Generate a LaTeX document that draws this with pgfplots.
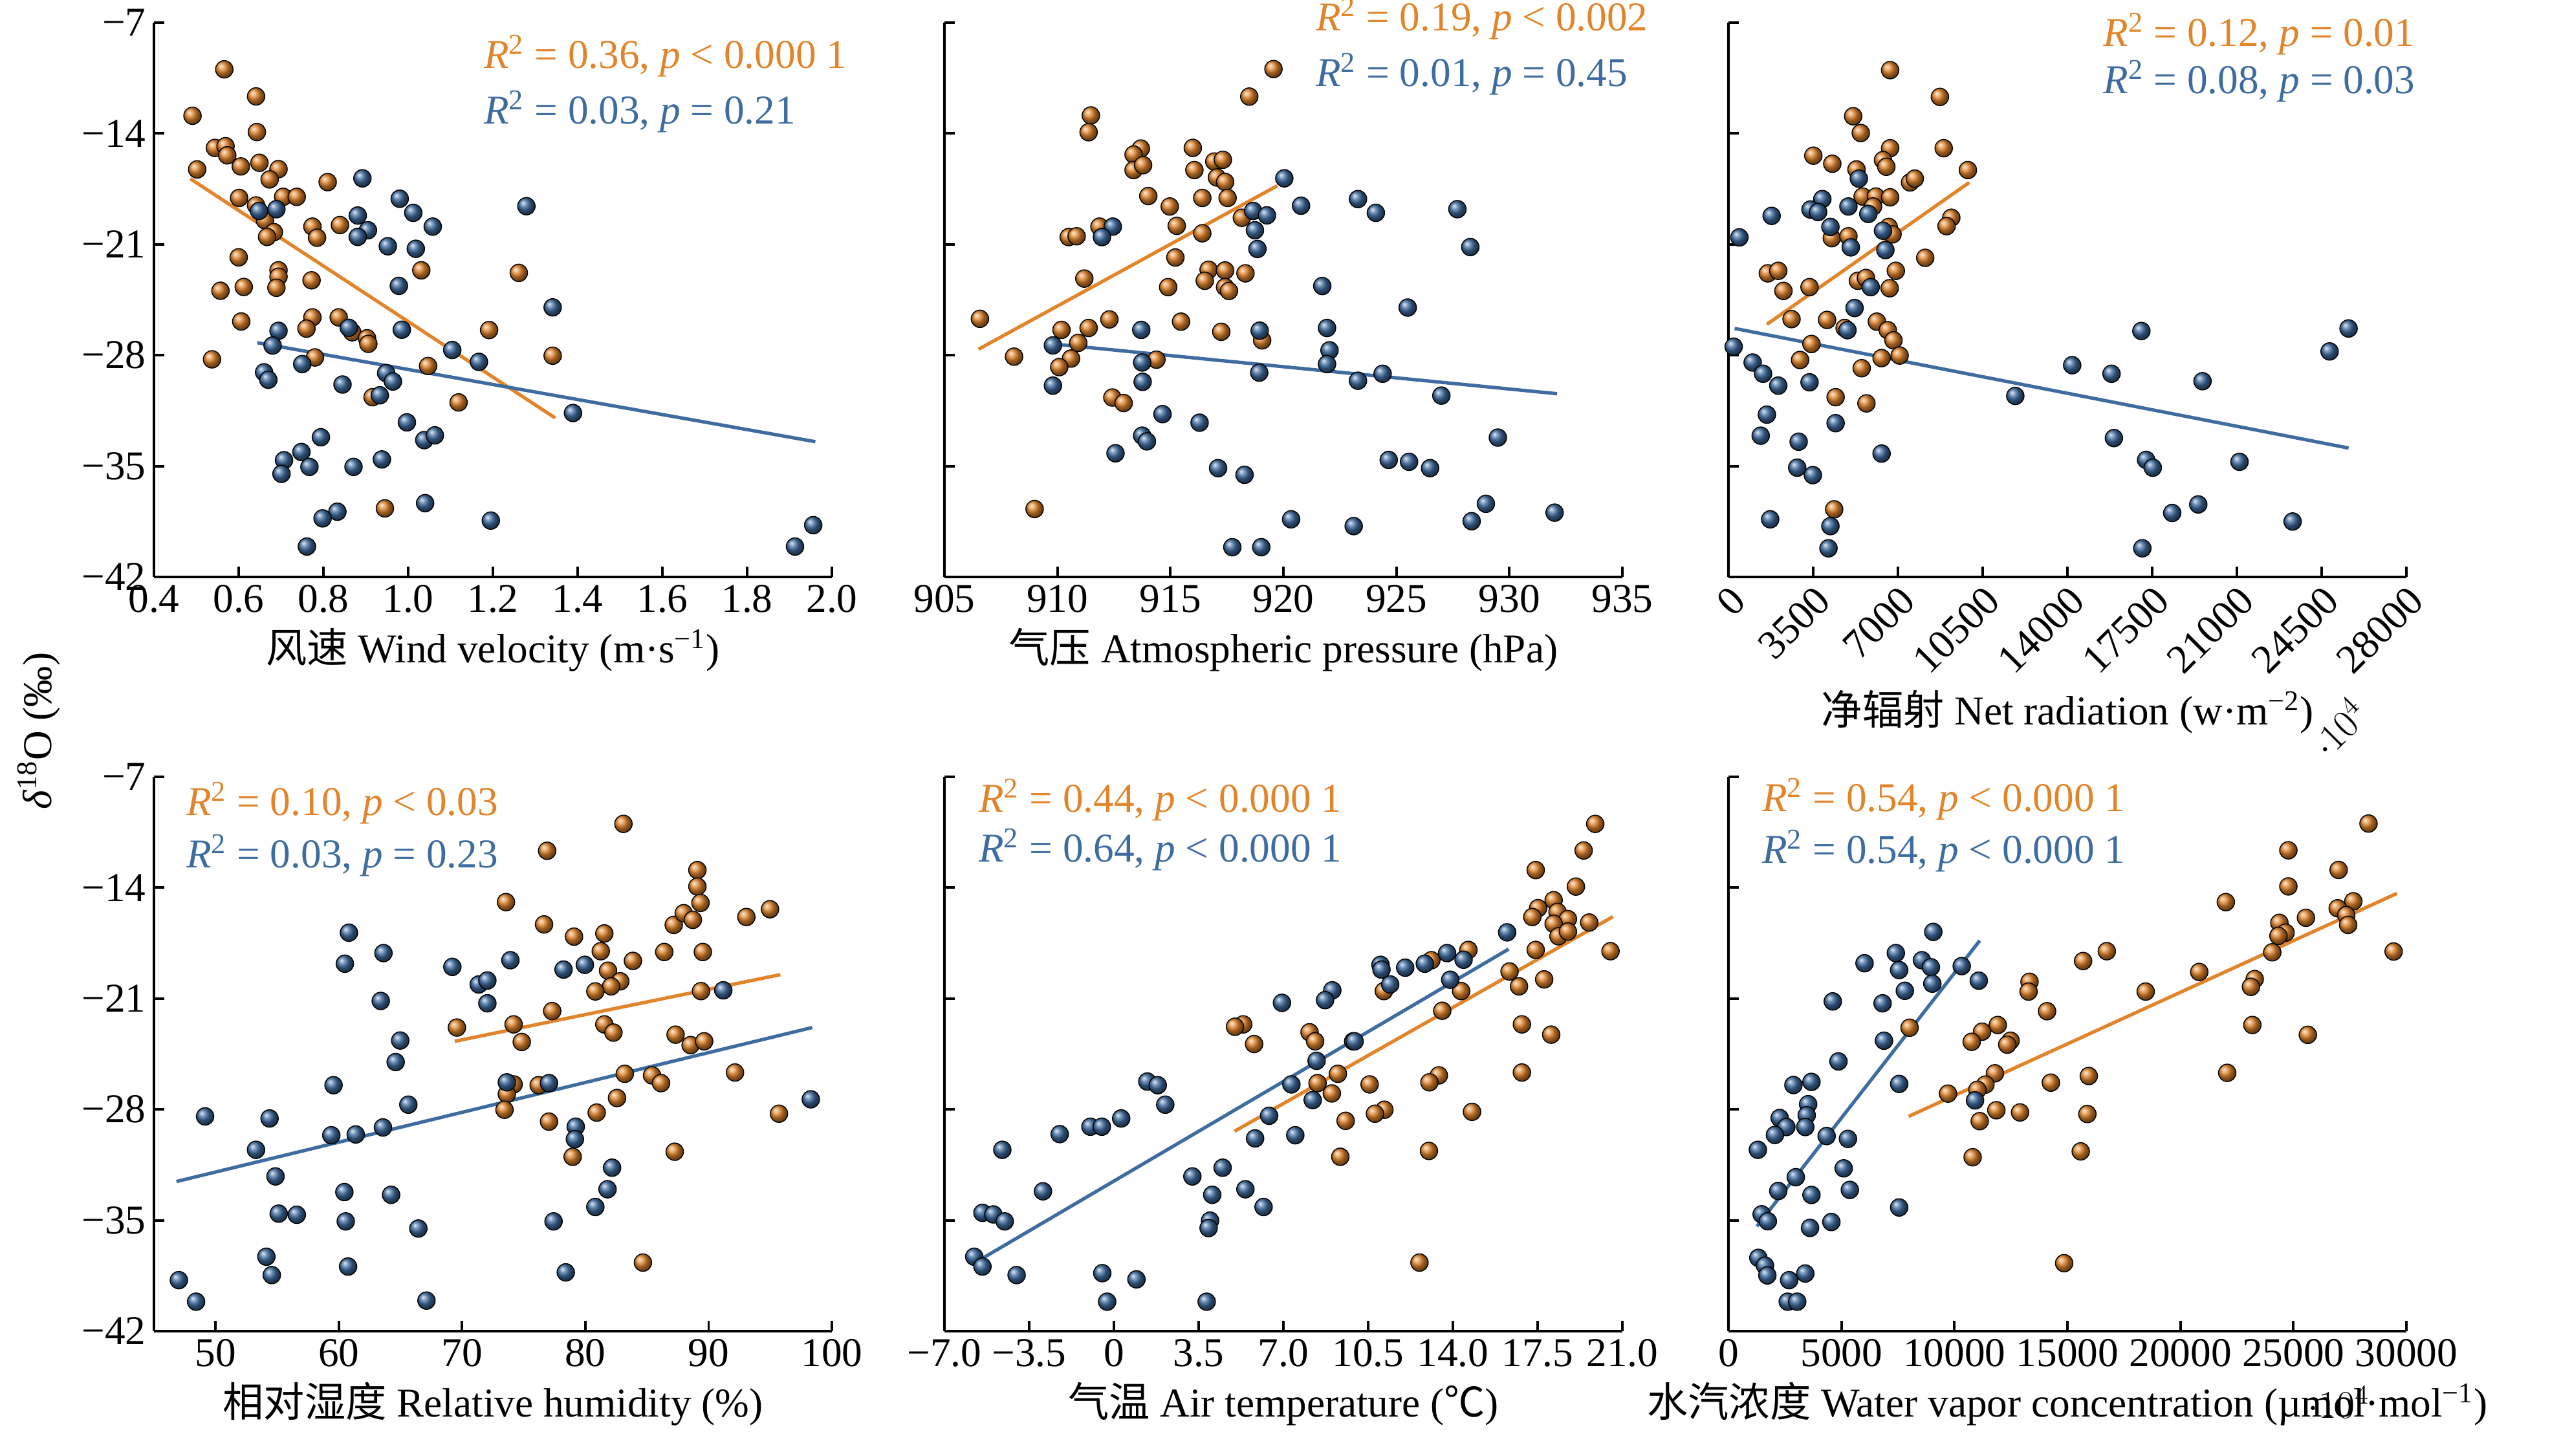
\documentclass[border=0pt]{standalone}
\usepackage{pgfplots}
\pgfplotsset{compat=1.18}
\usepackage{fontspec}
\setmainfont{Liberation Serif}
\newfontfamily\cjk{Noto Sans CJK SC}
\usetikzlibrary{plotmarks}
\definecolor{myorange}{RGB}{226,132,42}
\definecolor{myblue}{RGB}{62,108,160}
\newcommand\fs{\fontsize{18}{21}\selectfont}
\newcommand\rr[2]{{\itshape R}\textsuperscript{2} = #1, {\itshape p} #2}
\tikzset{ot/.style={anchor=west, text=myorange, font=\fs}, bt/.style={anchor=west, text=myblue, font=\fs}}
\pgfplotsset{panel/.style={width=104.8mm,height=85.7mm,scale only axis,anchor=south west,
  axis x line*=bottom, axis y line*=left, ymin=-42, ymax=-7, ytick={-42,-35,-28,-21,-14,-7},
  yticklabels={}, axis line style={line width=1.1pt}, tick style={black,line width=1.1pt},
  major tick length=1.6mm, tick label style={font=\fs}, label style={font=\fs}, clip=false},
  op/.style={only marks, mark=ball, mark size=1.35mm, ball color=myorange},
  bp/.style={only marks, mark=ball, mark size=1.35mm, ball color=myblue},
  ol/.style={myorange, line width=1.5pt}, bl/.style={myblue, line width=1.5pt}}
\begin{document}
\begin{tikzpicture}
% Panel 1
\begin{axis}[panel, at={(23.8mm,135.9mm)}, xmin=0.4, xmax=2.0,
  xtick={0.4,0.6,0.8,1.0,1.2,1.4,1.6,1.8,2.0}, xticklabels={0.4,0.6,0.8,1.0,1.2,1.4,1.6,1.8,2.0},
  yticklabels={−42,−35,−28,−21,−14,−7},
  xlabel={{\cjk 风速} Wind velocity (m·s\textsuperscript{−1})}]
\addplot[op] coordinates {(0.566,-9.95)(0.641,-11.66)(0.491,-12.88)(0.643,-13.91)(0.544,-14.91)(0.569,-14.80)(0.573,-15.38)(0.605,-16.08)(0.502,-16.27)(0.649,-15.85)(0.694,-16.25)(0.673,-16.90)(0.810,-17.07)(0.601,-18.07)(0.705,-18.0)(0.737,-18.0)(0.641,-18.54)(0.662,-19.48)(0.683,-20.23)(0.667,-20.53)(0.774,-19.88)(0.785,-20.58)(0.839,-19.78)(0.600,-21.82)(0.694,-22.64)(0.694,-23.04)(0.689,-23.74)(0.557,-23.93)(0.612,-23.69)(0.772,-23.27)(1.031,-22.64)(1.261,-22.80)(0.606,-25.87)(0.774,-25.61)(0.760,-26.32)(0.836,-25.61)(0.868,-26.55)(0.903,-26.93)(0.906,-27.28)(1.191,-26.41)(0.537,-28.26)(0.780,-28.14)(1.047,-28.68)(1.341,-28.03)(0.916,-30.65)(1.119,-30.98)(0.945,-37.67)};
\addplot[bp] coordinates {(0.892,-16.83)(0.980,-18.12)(1.012,-19.01)(1.058,-19.88)(0.881,-19.18)(0.905,-20.11)(0.881,-20.53)(0.952,-21.12)(1.018,-21.28)(1.279,-18.59)(0.648,-18.89)(0.689,-18.78)(0.978,-23.62)(1.341,-24.98)(0.694,-26.46)(0.860,-26.27)(0.985,-26.39)(0.680,-27.39)(1.104,-27.67)(1.167,-28.42)(0.660,-29.08)(0.670,-29.55)(0.750,-28.56)(0.845,-29.85)(0.948,-29.13)(0.964,-29.66)(0.933,-30.53)(1.389,-31.65)(0.997,-32.24)(0.794,-33.18)(1.038,-33.36)(1.063,-33.06)(0.748,-34.11)(0.707,-34.63)(0.701,-35.49)(0.767,-35.05)(0.871,-35.05)(0.938,-34.58)(1.040,-37.34)(0.833,-37.88)(0.798,-38.30)(1.195,-38.44)(0.761,-40.08)(1.913,-40.08)(1.956,-38.73)};
\addplot[ol] coordinates {(0.486,-16.86)(1.347,-31.96)};
\addplot[bl] coordinates {(0.644,-27.21)(1.961,-33.46)};
\node[ot] at (rel axis cs:0.475,0.94) {\rr{0.36}{< 0.000 1}};
\node[bt] at (rel axis cs:0.475,0.84) {\rr{0.03}{= 0.21}};
\end{axis}
% Panel 2
\begin{axis}[panel, at={(146.0mm,135.9mm)}, xmin=905, xmax=935,
  xtick={905,910,915,920,925,930,935}, xticklabels={905,910,915,920,925,930,935},
  xlabel={{\cjk 气压} Atmospheric pressure (hPa)}]
\addplot[op] coordinates {(919.56,-9.93)(918.49,-11.67)(911.48,-12.86)(911.38,-13.92)(915.99,-14.91)(913.69,-14.95)(913.37,-15.33)(916.94,-15.77)(917.32,-15.66)(913.37,-16.31)(913.79,-16.0)(916.06,-16.31)(917.06,-16.78)(917.42,-17.06)(914.02,-17.95)(916.41,-18.07)(917.53,-18.07)(914.97,-18.61)(915.28,-19.83)(918.16,-19.32)(916.41,-20.30)(911.86,-19.88)(910.50,-20.54)(910.85,-20.49)(915.22,-21.83)(916.69,-22.60)(917.42,-22.65)(916.52,-23.30)(918.32,-22.83)(911.19,-23.16)(914.90,-23.70)(917.42,-23.70)(917.59,-23.94)(906.57,-25.70)(912.30,-25.74)(915.47,-25.88)(910.18,-26.40)(911.38,-26.28)(917.25,-26.52)(919.06,-27.06)(910.92,-27.22)(908.08,-28.09)(910.60,-28.21)(910.08,-28.75)(914.38,-28.28)(912.43,-30.67)(912.93,-31.02)(908.99,-37.71)};
\addplot[bp] coordinates {(920.04,-16.83)(920.78,-18.56)(923.30,-18.14)(924.09,-19.01)(927.70,-18.78)(918.66,-18.89)(919.27,-19.17)(918.74,-20.11)(918.85,-21.29)(928.27,-21.17)(912.45,-19.88)(911.97,-20.54)(921.72,-23.63)(925.50,-24.99)(913.71,-26.40)(918.95,-26.45)(921.93,-26.28)(909.80,-27.38)(922.04,-27.69)(921.93,-28.56)(913.75,-28.46)(918.93,-29.10)(923.30,-29.61)(924.39,-29.17)(926.99,-30.55)(909.80,-29.92)(913.77,-29.68)(914.65,-31.72)(916.29,-32.26)(913.75,-33.08)(913.96,-33.44)(929.49,-33.20)(912.57,-34.19)(917.11,-35.13)(918.28,-35.55)(924.66,-34.61)(925.56,-34.73)(926.49,-35.13)(928.96,-37.38)(932.00,-37.94)(928.33,-38.48)(920.34,-38.36)(923.11,-38.79)(917.74,-40.12)(919.02,-40.12)};
\addplot[ol] coordinates {(906.51,-27.62)(919.73,-17.30)};
\addplot[bl] coordinates {(909.80,-27.29)(932.11,-30.43)};
\node[ot] at (rel axis cs:0.536,1.007) {\rr{0.19}{< 0.002}};
\node[bt] at (rel axis cs:0.536,0.907) {\rr{0.01}{= 0.45}};
\end{axis}
% Panel 3
\begin{axis}[panel, at={(267.2mm,135.9mm)}, xmin=0, xmax=28000,
  xtick={0,3500,7000,10500,14000,17500,21000,24500,28000}, xticklabels={0,3500,7000,10500,14000,17500,21000,24500,28000},
  xticklabel style={rotate=45, anchor=north east, inner sep=2pt},
  xlabel={{\cjk 净辐射} Net radiation (w·m\textsuperscript{−2})}]
\addplot[op] coordinates {(6677,-10.00)(8733,-11.69)(5150,-12.91)(5463,-13.97)(6677,-14.93)(8889,-14.93)(3505,-15.40)(4288,-15.91)(5287,-16.27)(6383,-15.68)(6520,-16.10)(9888,-16.31)(7499,-17.09)(7695,-16.85)(5541,-17.98)(6089,-17.98)(6677,-18.03)(5972,-18.61)(9203,-19.32)(9007,-19.85)(6618,-19.90)(4268,-20.61)(4954,-20.49)(6775,-20.37)(8126,-21.85)(1625,-22.83)(2056,-22.67)(6912,-22.67)(2271,-23.94)(3348,-23.70)(5345,-23.30)(5678,-23.12)(6657,-23.77)(2604,-25.72)(4073,-25.77)(4797,-26.28)(6129,-25.88)(6579,-26.42)(6814,-27.06)(3427,-27.29)(2957,-28.30)(6324,-28.18)(7068,-28.02)(5502,-28.82)(4425,-30.65)(5698,-31.04)(4366,-37.73)};
\addplot[bp] coordinates {(5385,-16.85)(3877,-18.14)(3387,-18.80)(3701,-18.96)(4954,-18.61)(5776,-19.08)(1782,-19.20)(450,-20.56)(4210,-19.90)(6383,-20.14)(5052,-21.19)(6481,-21.36)(5874,-23.70)(5208,-25.02)(4915,-26.42)(215,-27.46)(999,-28.46)(1429,-29.17)(2056,-29.92)(3348,-29.71)(11846,-30.57)(14196,-28.63)(15821,-29.17)(17054,-26.47)(19580,-29.64)(24827,-27.76)(25611,-26.31)(1586,-31.75)(4425,-32.29)(1331,-33.08)(2898,-33.46)(6324,-34.21)(2839,-35.10)(3485,-35.57)(15919,-33.23)(17250,-34.61)(17524,-35.10)(21107,-34.73)(18327,-37.96)(19404,-37.42)(23300,-38.50)(1723,-38.36)(4210,-38.79)(4131,-40.19)(17093,-40.19)};
\addplot[ol] coordinates {(1586,-26.05)(9947,-17.09)};
\addplot[bl] coordinates {(255,-26.31)(25611,-33.86)};
\node[ot] at (rel axis cs:0.541,0.98) {\rr{0.12}{= 0.01}};
\node[bt] at (rel axis cs:0.541,0.894) {\rr{0.08}{= 0.03}};
\end{axis}
% Panel 4
\begin{axis}[panel, at={(23.8mm,19.3mm)}, xmin=45, xmax=100,
  xtick={50,60,70,80,90,100}, xticklabels={50,60,70,80,90,100},
  yticklabels={−42,−35,−28,−21,−14,−7},
  xlabel={{\cjk 相对湿度} Relative humidity (\%)}]
\addplot[op] coordinates {(83.09,-9.97)(76.90,-11.67)(89.09,-12.89)(89.09,-13.93)(89.34,-14.96)(73.56,-14.91)(76.65,-16.32)(79.08,-17.09)(81.54,-16.89)(87.17,-16.35)(87.98,-15.61)(88.72,-16.03)(93.06,-15.85)(94.98,-15.36)(81.25,-18.01)(86.40,-18.06)(89.53,-18.06)(83.86,-18.62)(81.84,-19.24)(82.83,-19.91)(82.09,-20.23)(80.81,-20.55)(89.38,-20.53)(77.31,-21.79)(69.58,-22.83)(74.18,-22.63)(74.84,-23.74)(81.54,-22.63)(82.28,-23.15)(87.32,-23.28)(88.54,-23.94)(89.64,-23.70)(83.20,-25.75)(85.41,-25.85)(86.14,-26.34)(92.14,-25.67)(74.18,-26.42)(73.63,-27.03)(76.21,-26.47)(73.44,-28.02)(77.05,-28.77)(80.92,-28.20)(82.57,-27.28)(95.71,-28.27)(78.97,-30.99)(87.25,-30.67)(84.67,-37.67)};
\addplot[bp] coordinates {(60.82,-16.84)(63.62,-18.13)(60.49,-18.80)(69.21,-19.00)(73.92,-18.58)(78.23,-19.17)(79.96,-18.87)(71.35,-20.11)(72.05,-19.86)(72.05,-21.30)(63.40,-21.15)(91.19,-20.48)(64.98,-23.65)(64.61,-25.01)(59.57,-26.47)(73.63,-26.29)(77.05,-26.34)(65.64,-27.70)(49.15,-28.44)(54.38,-28.57)(53.28,-30.55)(59.39,-29.63)(61.37,-29.58)(63.58,-29.14)(79.22,-29.09)(79.15,-29.88)(98.29,-27.36)(54.86,-32.23)(60.45,-33.22)(64.24,-33.39)(55.12,-34.58)(56.59,-34.65)(60.56,-35.07)(66.45,-35.52)(77.42,-35.07)(80.81,-34.16)(81.80,-33.04)(82.17,-31.68)(54.12,-37.30)(54.56,-38.46)(60.75,-37.92)(78.41,-38.29)(47.02,-38.78)(48.42,-40.14)(67.11,-40.07)};
\addplot[ol] coordinates {(69.40,-23.70)(95.82,-19.49)};
\addplot[bl] coordinates {(46.83,-32.55)(98.40,-22.83)};
\node[ot] at (rel axis cs:0.036,0.953) {\rr{0.10}{< 0.03}};
\node[bt] at (rel axis cs:0.036,0.858) {\rr{0.03}{= 0.23}};
\end{axis}
% Panel 5
\begin{axis}[panel, at={(146.0mm,19.3mm)}, xmin=-7, xmax=21,
  xtick={-7,-3.5,0,3.5,7,10.5,14,17.5,21}, xticklabels={−7.0,−3.5,0,3.5,7.0,10.5,14.0,17.5,21.0},
  xlabel={{\cjk 气温} Air temperature ({\cjk ℃})}]
\addplot[op] coordinates {(19.88,-9.97)(19.40,-11.65)(17.42,-12.89)(19.08,-13.93)(18.16,-14.79)(17.52,-15.29)(17.28,-15.85)(18.32,-15.53)(18.75,-15.98)(18.16,-16.28)(19.63,-16.20)(18.36,-17.07)(18.75,-16.77)(20.51,-18.01)(17.42,-17.93)(14.64,-17.93)(13.11,-18.58)(16.34,-19.29)(16.73,-20.23)(17.77,-19.79)(14.34,-20.53)(11.15,-20.53)(13.56,-21.77)(16.85,-22.63)(18.06,-23.28)(5.34,-22.63)(5.00,-22.78)(5.79,-23.87)(8.08,-23.13)(8.31,-23.70)(9.88,-23.70)(9.25,-25.75)(8.41,-26.34)(9.00,-26.99)(10.56,-26.42)(13.42,-25.85)(13.03,-26.29)(16.85,-25.67)(11.17,-28.02)(10.78,-28.27)(9.57,-28.72)(14.79,-28.15)(9.35,-30.99)(13.01,-30.62)(12.62,-37.67)};
\addplot[bp] coordinates {(16.24,-16.82)(13.76,-18.13)(14.44,-18.55)(12.84,-18.80)(12.03,-19.05)(11.01,-18.87)(11.05,-19.17)(11.41,-20.11)(13.89,-19.81)(6.94,-21.27)(9.02,-20.48)(8.72,-21.10)(9.94,-23.70)(8.37,-24.93)(7.33,-26.42)(8.21,-27.41)(6.41,-28.40)(5.83,-29.83)(7.49,-29.63)(1.38,-26.24)(1.81,-26.47)(2.12,-27.70)(0.30,-28.57)(-0.97,-29.09)(-0.50,-29.09)(-2.24,-29.56)(-4.61,-30.55)(-2.93,-33.17)(-5.43,-34.53)(-4.98,-34.63)(-4.51,-35.07)(3.24,-32.23)(4.49,-31.68)(4.06,-33.39)(5.43,-33.04)(6.18,-34.16)(3.97,-35.02)(3.91,-35.49)(-5.77,-37.30)(-5.43,-37.92)(-4.02,-38.46)(-0.48,-38.34)(0.93,-38.73)(-0.28,-40.14)(3.83,-40.14)};
\addplot[ol] coordinates {(4.98,-29.38)(20.61,-15.83)};
\addplot[bl] coordinates {(-5.73,-37.67)(16.30,-17.88)};
\node[ot] at (rel axis cs:0.039,0.958) {\rr{0.44}{< 0.000 1}};
\node[bt] at (rel axis cs:0.039,0.869) {\rr{0.64}{< 0.000 1}};
\end{axis}
% Panel 6
\begin{axis}[panel, at={(267.2mm,19.3mm)}, xmin=0, xmax=30000,
  xtick={0,5000,10000,15000,20000,25000,30000}, xticklabels={0,5000,10000,15000,20000,25000,30000},
  xlabel={{\cjk 水汽浓度} Water vapor concentration (µmol·mol\textsuperscript{−1})}]
\addplot[op] coordinates {(28323,-9.95)(24777,-11.64)(27001,-12.88)(24777,-13.92)(22008,-14.91)(27652,-14.86)(26959,-15.30)(27337,-15.73)(25554,-15.90)(27421,-16.35)(24379,-16.22)(24652,-16.84)(24337,-17.04)(24064,-18.08)(29435,-18.03)(16742,-18.01)(15693,-18.63)(20833,-19.32)(23288,-19.77)(23120,-20.26)(13322,-19.94)(13280,-20.56)(18462,-20.56)(14099,-21.80)(11917,-22.67)(11224,-23.09)(10763,-23.73)(12483,-23.66)(12336,-23.91)(8014,-22.84)(23183,-22.67)(25638,-23.29)(11791,-25.72)(11371,-26.43)(11015,-26.76)(9714,-27.00)(14266,-26.31)(15945,-25.89)(22071,-25.69)(11854,-28.05)(12903,-28.19)(15882,-28.29)(11119,-28.74)(10805,-31.02)(15588,-30.65)(14854,-37.71)};
\addplot[bp] coordinates {(9063,-16.79)(7406,-18.13)(8560,-18.58)(8958,-19.02)(7553,-19.20)(6021,-18.77)(10322,-18.95)(11077,-19.87)(9021,-20.06)(7805,-20.51)(4616,-21.18)(6819,-21.30)(6881,-23.66)(4867,-24.97)(2874,-26.46)(3672,-26.26)(7553,-26.39)(3525,-27.67)(3462,-28.37)(2266,-28.54)(2560,-29.11)(3399,-29.11)(2056,-29.61)(4343,-29.68)(5287,-29.86)(1301,-30.55)(5098,-31.72)(5371,-33.08)(2979,-32.28)(2203,-33.15)(3672,-33.40)(1469,-34.62)(1741,-35.06)(4553,-35.11)(3609,-35.48)(7553,-34.19)(10910,-27.43)(1322,-37.37)(1615,-37.86)(1720,-38.48)(2685,-38.78)(3399,-38.36)(2623,-40.14)(3042,-40.14)};
\addplot[ol] coordinates {(7972,-28.44)(29582,-14.36)};
\addplot[bl] coordinates {(1259,-35.38)(11119,-17.34)};
\node[ot] at (rel axis cs:0.038,0.96) {\rr{0.54}{< 0.000 1}};
\node[bt] at (rel axis cs:0.038,0.866) {\rr{0.54}{< 0.000 1}};
\end{axis}
\node[rotate=90, font=\fs] at (6mm,112.1mm) {{\itshape δ}\textsuperscript{18}O (‰)};
\pgfresetboundingbox
\useasboundingbox (0,0) rectangle (394.2mm,225.1mm);
\end{tikzpicture}
\end{document}
